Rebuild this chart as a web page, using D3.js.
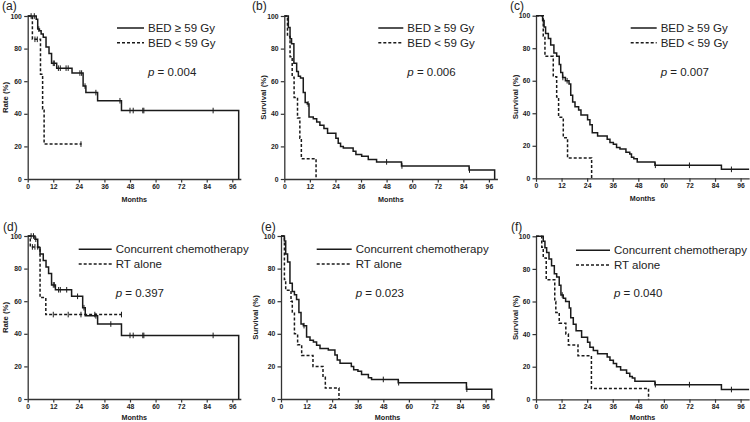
<!DOCTYPE html>
<html><head><meta charset="utf-8">
<script src="https://cdn.jsdelivr.net/npm/d3@7"></script>
<style>body{margin:0;background:#fff}svg{display:block}</style>
</head><body>
<svg id="c" width="750" height="422"></svg>
<script>
// ---------- data ----------
const monthTicks = [0, 12, 24, 36, 48, 60, 72, 84, 96];
const pctTicks = [0, 20, 40, 60, 80, 100];
const panelLabels = ["(a)", "(b)", "(c)", "(d)", "(e)", "(f)"];
const yTitles = ["Rate (%)", "Survival (%)", "Survival (%)", "Rate (%)", "Survival (%)", "Survival (%)"];
const xTitle = "Months";
const legendBED = ["BED \u2265 59 Gy", "BED < 59 Gy"];
const legendChemo = ["Concurrent chemotherapy", "RT alone"];
const pValues = ["0.004", "0.006", "0.007", "0.397", "0.023", "0.040"];

// (a) local control by BED
const aHiT = [4.0, 4.7, 5.5, 6.3, 7.3, 8.6, 10.0, 11.2, 13.6, 20.8, 26.0, 27.3, 32.8, 44.0, 99.0];
const aHiS = [98, 92, 91, 89, 87, 81, 77, 71, 68, 65, 57, 53, 48, 42, 0];
const aHiC = [1.6, 3.1, 5.2, 12.0, 12.5, 14.4, 15.3, 18.0, 19.0, 24.5, 25.3, 26.9, 32.0, 43.3, 48.0, 49.5, 54.0, 54.5, 87.0];
const aLoT = [2.2, 6.0, 7.0, 7.7, 25.3];
const aLoS = [85.7, 64.3, 42.9, 21.4, 21.4];
const aLoC = [3.4, 4.5, 25.0];

// (b) by BED
const bHiT = [1.9, 2.7, 3.4, 4.5, 5.8, 6.6, 7.6, 8.9, 9.8, 10.8, 11.6, 13.6, 15.2, 16.7, 18.6, 20.3, 24.2, 25.3, 26.4, 27.7, 32.3, 33.6, 36.3, 39.4, 43.3, 55.0, 86.7, 98.7];
const bHiS = [93, 86, 83, 71, 66, 63, 62, 53, 47, 46, 38, 37, 35, 33, 31, 28, 25, 22, 20, 19, 17, 15, 14, 12, 10.5, 8, 5.5, 0];
const bHiC = [11.2, 48.0, 55.2, 86.9];
const bLoT = [1.5, 2.7, 3.7, 4.6, 6.2, 7.3, 8.0, 14.9];
const bLoS = [87.5, 75, 62.5, 50, 37.5, 25, 12.5, 0];
const bLoC = [];

// (c) by BED
const cHiT = [3.1, 3.8, 4.5, 5.8, 6.9, 8.4, 9.7, 10.9, 11.6, 12.5, 13.8, 15.5, 16.3, 17.2, 18.3, 20.0, 21.1, 24.2, 25.3, 26.4, 28.9, 33.4, 34.7, 36.3, 37.8, 39.4, 42.2, 44.0, 44.8, 45.9, 47.5, 55.8, 87.0, 100];
const cHiS = [97, 93, 89, 86, 82, 77, 75, 70, 65, 62, 60, 58, 51, 47, 44, 42, 39, 36, 33, 28, 26, 24, 22, 21, 19, 18, 16, 15, 13, 12, 10, 8, 5.5, 5.5];
const cHiC = [3.4, 12.6, 14.6, 56.0, 72.0, 91.7];
const cLoT = [3.4, 4.2, 8.1, 9.7, 10.6, 12.8, 14.8, 26.1];
const cLoS = [87.5, 75, 62.5, 50, 37.5, 25, 12.5, 0];
const cLoC = [];

// (d) local control by treatment
const dChT = [3.4, 4.7, 5.8, 7.3, 8.6, 9.8, 11.2, 13.0, 20.6, 25.8, 27.0, 32.8, 44.0, 99.0];
const dChS = [98, 93, 89, 85, 81, 77, 70, 67, 63, 56, 51, 46, 39, 0];
const dChC = [1.6, 2.7, 3.8, 12.0, 12.5, 14.5, 15.3, 18.3, 23.4, 26.4, 32.0, 39.0, 48.0, 49.5, 54.0, 54.5, 87.0];
const dRtT = [1.2, 5.8, 8.5, 44.0];
const dRtS = [93.3, 62.2, 51.8, 51.8];
const dRtC = [2.2, 3.4, 4.7, 12.0, 19.0, 25.0, 31.5, 44.0];

// (e) by treatment
const eChT = [1.6, 2.2, 3.1, 4.2, 5.3, 6.3, 7.3, 8.4, 9.4, 10.5, 12.0, 13.6, 15.2, 16.7, 18.3, 22.2, 25.3, 26.4, 27.7, 33.0, 34.1, 36.1, 37.8, 41.0, 42.5, 55.0, 87.0, 98.9];
const eChS = [97, 89, 84, 71, 66, 64, 61, 53, 46, 45, 38, 36, 35, 33, 31, 30, 27, 24, 22, 20, 18, 17, 15, 13, 12, 10, 6, 0];
const eChC = [10.8, 48.0, 55.2, 87.2];
const eRtT = [1.6, 2.2, 4.7, 5.3, 6.3, 7.8, 9.7, 15.0, 19.7, 20.8, 27.2];
const eRtS = [73.3, 66.7, 60, 53.3, 40, 33.3, 26.7, 20, 13.3, 6.7, 0];
const eRtC = [];

// (f) by treatment
const fChT = [3.4, 4.2, 5.0, 6.1, 7.3, 8.6, 9.7, 10.9, 11.7, 12.8, 13.9, 15.6, 16.3, 17.5, 18.8, 21.4, 24.2, 25.3, 26.9, 28.9, 33.4, 34.7, 36.3, 37.8, 39.7, 42.5, 44.0, 45.2, 46.4, 55.8, 87.0, 100];
const fChS = [97, 93, 90, 86, 82, 77, 75, 70, 64, 62, 60, 56, 50, 46, 42, 38, 35, 32, 30, 28, 26, 24, 22, 20, 18, 16, 14, 13, 11, 9, 6, 6];
const fChC = [12.3, 56.0, 72.0, 91.7];
const fRtT = [2.7, 3.4, 4.8, 8.8, 9.3, 10.9, 14.0, 15.2, 19.7, 26.0, 52.8];
const fRtS = [93.3, 86.7, 73.3, 60, 53.3, 46.7, 40, 33.3, 26.7, 6.7, 0];
const fRtC = [];

// ---------- layout (positions only) ----------
const layout = [
  {x0: 27.7, top: 16, bot: 179, lgX: 117, lgY: 28, pY: 71.7, labX: 2, labY: 9.5, ytX: 6, xtDy: 21},
  {x0: 284.3, top: 16, bot: 179, lgX: 378.3, lgY: 28, pY: 71.7, labX: 252, labY: 9.5, ytX: 264, xtDy: 21},
  {x0: 536, top: 15.7, bot: 178.3, lgX: 630.7, lgY: 28, pY: 71.5, labX: 510, labY: 9.5, ytX: 516, xtDy: 21},
  {x0: 27.7, top: 236, bot: 399, lgX: 78.7, lgY: 249.3, pY: 292.7, labX: 3, labY: 230.5, ytX: 6, xtDy: 19},
  {x0: 281, top: 236, bot: 399, lgX: 316.7, lgY: 249.3, pY: 293, labX: 261, labY: 230.5, ytX: 256, xtDy: 19},
  {x0: 536, top: 236.3, bot: 399.3, lgX: 576, lgY: 250.3, pY: 292.7, labX: 511, labY: 230.5, ytX: 516, xtDy: 18.7}
];
const lgLen = [27, 25, 26, 33, 35, 34];

const panels = [
  {a: [aHiT, aHiS, aHiC], b: [aLoT, aLoS, aLoC], leg: legendBED},
  {a: [bHiT, bHiS, bHiC], b: [bLoT, bLoS, bLoC], leg: legendBED},
  {a: [cHiT, cHiS, cHiC], b: [cLoT, cLoS, cLoC], leg: legendBED},
  {a: [dChT, dChS, dChC], b: [dRtT, dRtS, dRtC], leg: legendChemo},
  {a: [eChT, eChS, eChC], b: [eRtT, eRtS, eRtC], leg: legendChemo},
  {a: [fChT, fChS, fChC], b: [fRtT, fRtS, fRtC], leg: legendChemo}
];

const svg = d3.select("#c");
const ink = "#1a1a1a";
const font = "Arial, 'Liberation Sans', sans-serif";
const pxPerMonth = (232.3 - 27.7) / 96;

function survAt(T, S, t) {
  let v = 100;
  for (let i = 0; i < T.length; i++) { if (T[i] <= t) v = S[i]; else break; }
  return v;
}

panels.forEach((p, i) => {
  const L = layout[i];
  const x = d3.scaleLinear().domain([0, 100]).range([L.x0, L.x0 + 100 * pxPerMonth]);
  const y = d3.scaleLinear().domain([0, 100]).range([L.bot, L.top]);
  const g = svg.append("g");

  // axes
  const xa = g.append("g").attr("transform", `translate(0,${L.bot})`)
    .call(d3.axisBottom(x).tickValues(monthTicks).tickSize(3.5).tickSizeOuter(0));
  const ya = g.append("g").attr("transform", `translate(${L.x0},0)`)
    .call(d3.axisLeft(y).tickValues(pctTicks).tickSize(3.5).tickSizeOuter(0));
  [xa, ya].forEach(a => {
    a.select(".domain").attr("stroke", "#333").attr("stroke-width", 1.3);
    a.selectAll(".tick line").attr("stroke", "#333").attr("stroke-width", 1.2);
    a.selectAll("text").attr("font-family", font)
      .attr("font-size", 6.8).attr("font-weight", "bold").attr("fill", "#222");
  });
  xa.selectAll("text").attr("dy", "0.45em");
  ya.selectAll("text").attr("dx", "0.1em");

  // titles
  g.append("text").attr("x", x(50)).attr("y", L.bot + L.xtDy)
    .attr("text-anchor", "middle").attr("dominant-baseline", "middle")
    .attr("font-family", font).attr("font-size", 7.2)
    .attr("font-weight", "bold").attr("fill", "#222").text(xTitle);
  g.append("text")
    .attr("transform", `translate(${L.ytX},${(L.top + L.bot) / 2}) rotate(-90)`)
    .attr("text-anchor", "middle").attr("dominant-baseline", "middle")
    .attr("font-family", font).attr("font-size", 7.8).attr("font-weight", "bold")
    .attr("fill", "#222").text(yTitles[i]);
  g.append("text").attr("x", L.labX).attr("y", L.labY)
    .attr("font-family", font).attr("font-size", 12)
    .attr("fill", "#222").text(panelLabels[i]);

  // curves
  const line = d3.line().x(d => x(d[0])).y(d => y(d[1])).curve(d3.curveStepAfter);
  [[p.a, null], [p.b, "3,2"]].forEach(([c, dash]) => {
    const [T, S, C] = c;
    const pts = [[0, 100]].concat(T.map((t, k) => [t, S[k]]));
    g.append("path").attr("d", line(pts)).attr("fill", "none")
      .attr("stroke", ink).attr("stroke-width", 1.5)
      .attr("stroke-dasharray", dash);
    g.selectAll(null).data(C).enter().append("line")
      .attr("x1", t => x(t)).attr("x2", t => x(t))
      .attr("y1", t => y(survAt(T, S, t)) - 2.8).attr("y2", t => y(survAt(T, S, t)) + 2.8)
      .attr("stroke", ink).attr("stroke-width", 1);
  });

  // legend
  const lx = L.lgX, len = lgLen[i];
  p.leg.forEach((lab, k) => {
    const yy = L.lgY + k * 14.8;
    g.append("line").attr("x1", lx).attr("x2", lx + len).attr("y1", yy).attr("y2", yy)
      .attr("stroke", ink).attr("stroke-width", 1.5)
      .attr("stroke-dasharray", k === 1 ? "3,2" : null);
    g.append("text").attr("x", lx + len + 4).attr("y", yy).attr("dy", "0.36em")
      .attr("font-family", font).attr("font-size", 11.5)
      .attr("fill", "#222").text(lab);
  });
  const pt = g.append("text").attr("x", lx + len + 4).attr("y", L.pY).attr("dy", "0.36em")
    .attr("font-family", font).attr("font-size", 11.5)
    .attr("fill", "#222");
  pt.append("tspan").attr("font-style", "italic").text("p");
  pt.append("tspan").text(" = " + pValues[i]);
});
</script>
</body></html>
